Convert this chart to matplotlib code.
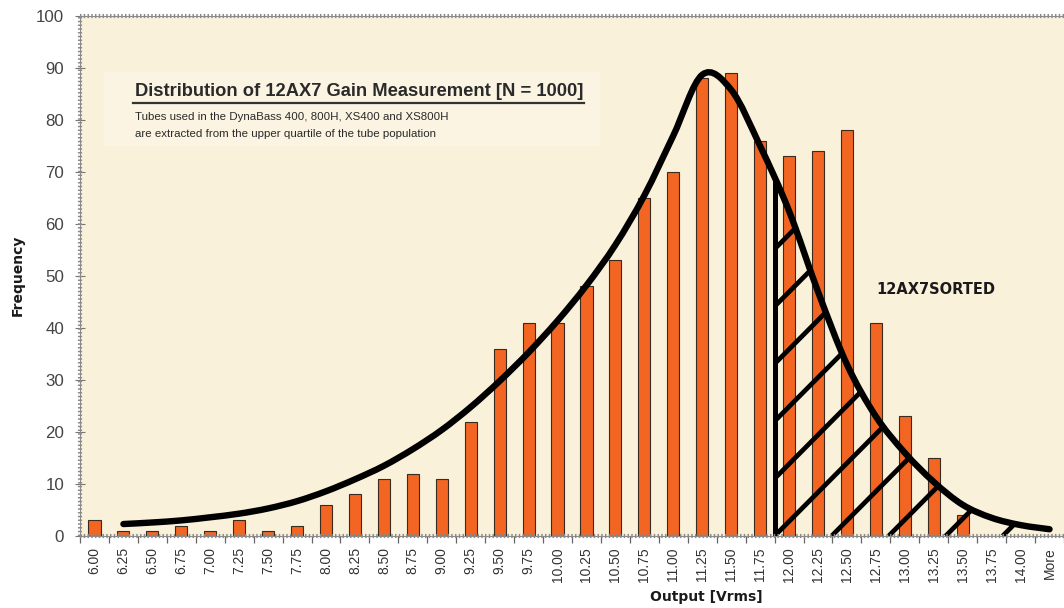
import numpy as np
import matplotlib
matplotlib.use("Agg")
import matplotlib.pyplot as plt
from matplotlib import font_manager as fm
from matplotlib.patches import Polygon, Rectangle, PathPatch
from matplotlib.path import Path
from matplotlib.lines import Line2D

# ---------------- data ----------------
categories = ["6.00", "6.25", "6.50", "6.75", "7.00", "7.25", "7.50", "7.75",
              "8.00", "8.25", "8.50", "8.75", "9.00", "9.25", "9.50", "9.75",
              "10.00", "10.25", "10.50", "10.75", "11.00", "11.25", "11.50",
              "11.75", "12.00", "12.25", "12.50", "12.75", "13.00", "13.25",
              "13.50", "13.75", "14.00", "More"]
frequency = [3, 1, 1, 2, 1, 3, 1, 2,
             6, 8, 11, 12, 11, 22, 36, 41,
             41, 48, 53, 65, 70, 88, 89,
             76, 73, 74, 78, 41, 23, 15,
             4, 0, 0, 0]
# fitted distribution curve; first category has no curve point
fit_curve = [np.nan, 2.3, 2.6, 3.0, 3.6, 4.3, 5.3, 6.7,
             8.6, 10.9, 13.5, 16.7, 20.4, 24.8, 29.8, 35.3,
             41.4, 48.2, 56.0, 65.5, 77.0, 88.7, 85.8,
             75.0, 62.5, 47.0, 33.0, 23.0, 16.0, 10.4,
             6.0, 3.5, 2.1, 1.3]
sorted_start = 23.5   # boundary between 11.75 and 12.00 (category index units)

title = "Distribution of 12AX7 Gain Measurement [N = 1000]"
subtitle = ["Tubes used in the DynaBass 400, 800H, XS400 and XS800H",
            "are extracted from the upper quartile of the tube population"]
region_label = "12AX7SORTED"

# ---------------- fonts ----------------
names = {f.name for f in fm.fontManager.ttflist}
sans = "Liberation Sans" if "Liberation Sans" in names else "DejaVu Sans"
narrow = "Liberation Sans Narrow" if "Liberation Sans Narrow" in names else sans

W, H = 1064, 608
fig = plt.figure(figsize=(W / 100, H / 100), dpi=100, facecolor="white")

ax_l, ax_r, ax_t, ax_b = 80, 1064, 16, 536
ax = fig.add_axes([ax_l / W, 1 - ax_b / H, (ax_r - ax_l) / W, (ax_b - ax_t) / H])
bg = "#FAF1DA"
ax.set_facecolor(bg)

idx = np.arange(len(categories))
XMAX = 33.28
ax.set_xlim(-0.5, XMAX)
ax.set_ylim(0, 100)

# lighter title box
fig.patches.append(Rectangle((104 / W, 1 - 146 / H), (600 - 104) / W, (146 - 72) / H,
                             transform=fig.transFigure, facecolor="#FBF4E2",
                             edgecolor="none", zorder=0.5))

# bars
ax.bar(idx, frequency, width=0.42, color="#F26522", edgecolor="#3b2a1e",
       linewidth=0.8, zorder=2)

# ---- smoothed curve (Catmull-Rom -> cubic Bezier, like a spreadsheet smoothed line)
cx = idx[1:].astype(float)
cy = np.array(fit_curve[1:], dtype=float)
P = np.column_stack([cx, cy])
Pext = np.vstack([P[0], P, P[-1]])
verts = [tuple(P[0])]
codes = [Path.MOVETO]
dense = [P[0]]
tt = np.linspace(0, 1, 25)[1:]
for i in range(len(P) - 1):
    p0, p1, p2, p3 = Pext[i], Pext[i + 1], Pext[i + 2], Pext[i + 3]
    c1 = p1 + (p2 - p0) / 6.0
    c2 = p2 - (p3 - p1) / 6.0
    verts += [tuple(c1), tuple(c2), tuple(p2)]
    codes += [Path.CURVE4] * 3
    b = ((1 - tt) ** 3)[:, None] * p1 + (3 * (1 - tt) ** 2 * tt)[:, None] * c1 \
        + (3 * (1 - tt) * tt ** 2)[:, None] * c2 + (tt ** 3)[:, None] * p2
    dense.extend(list(b))
dense = np.array(dense)
curve_path = Path(verts, codes)

# hatched sorted region
sel = dense[:, 0] >= sorted_start
y_start = np.interp(sorted_start, dense[:, 0], dense[:, 1])
region = [(sorted_start, 0), (sorted_start, y_start)] + [tuple(p) for p in dense[sel]] \
    + [(dense[-1, 0], 0)]
poly = Polygon(region, closed=True, facecolor="none", edgecolor="none", zorder=3)
ax.add_patch(poly)

px_x = (ax_r - ax_l) / (XMAX + 0.5)
px_y = (ax_b - ax_t) / 100.0
slope = px_x / px_y
step = 1.97
for k in range(-10, 8):
    x0 = sorted_start + step * k
    ln, = ax.plot([x0, x0 + 20], [0, 20 * slope], color="black", lw=3.4,
                  solid_capstyle="butt", zorder=4)
    ln.set_clip_path(poly)
ax.plot([sorted_start, sorted_start], [0, y_start], color="black", lw=3.6,
        solid_capstyle="butt", zorder=4)

ax.add_patch(PathPatch(curve_path, facecolor="none", edgecolor="black", lw=4.6,
                       joinstyle="round", capstyle="round", zorder=5))

# axes styling
for s in ["right", "left", "top", "bottom"]:
    ax.spines[s].set_visible(False)
rule = dict(color="#8a8a8a", lw=3.0, ls=(0, (0.35, 0.55)), clip_on=False, zorder=6,
            transform=ax.transAxes)
ax.plot([0, 1], [0, 0], **rule)
ax.plot([0, 0], [0, 1], **rule)
ax.plot([0, 1], [1, 1], **rule)
thin = dict(color="#8a8a8a", lw=0.8, clip_on=False, zorder=6, transform=ax.transAxes)
ax.plot([0, 1], [0, 0], **thin)
ax.plot([0, 0], [0, 1], **thin)
ax.plot([0, 1], [1, 1], **thin)

ax.set_yticks(np.arange(0, 101, 10))
ax.tick_params(axis="y", direction="inout", length=7, width=0.8, color="#777",
               pad=8, labelsize=12.2, labelcolor="#444444")
for t in ax.get_yticklabels():
    t.set_fontfamily([narrow, "DejaVu Sans"])

ax.set_xticks(idx)
ax.set_xticklabels(categories, rotation=90, fontsize=10, color="#333333",
                   fontfamily=[narrow, "DejaVu Sans"])
ax.tick_params(axis="x", which="major", length=0, pad=8)
ax.set_xticks(np.arange(-0.5, 33.6, 1), minor=True)
ax.tick_params(axis="x", which="minor", direction="out", length=5, width=0.9,
               color="#666")

# texts
fig.text(135 / W, 1 - 91 / H, title, fontsize=13.2, fontweight="bold",
         family=[sans, "DejaVu Sans"], color="#2a2a2a", va="center", ha="left")
fig.add_artist(Line2D([133 / W, 584 / W], [1 - 103 / H, 1 - 103 / H],
                      transform=fig.transFigure, color="#333", lw=1.6))
fig.text(135 / W, 1 - 117.5 / H, subtitle[0], fontsize=8.25,
         family=[sans, "DejaVu Sans"], color="#2a2a2a", va="center", ha="left")
fig.text(135 / W, 1 - 134 / H, subtitle[1], fontsize=8.25,
         family=[sans, "DejaVu Sans"], color="#2a2a2a", va="center", ha="left")

fig.text(876 / W, 1 - 290 / H, region_label, fontsize=10.5, fontweight="bold",
         family="DejaVu Sans", color="#1a1a1a", va="center", ha="left")

fig.text(18 / W, 1 - 275 / H, "Frequency", rotation=90, fontsize=10,
         fontweight="bold", family="DejaVu Sans", color="#1a1a1a",
         va="center", ha="center")
fig.text(706 / W, 1 - 597 / H, "Output [Vrms]", fontsize=10, fontweight="bold",
         family="DejaVu Sans", color="#1a1a1a", va="center", ha="center")

fig.savefig("out.png", dpi=100, facecolor="white")
